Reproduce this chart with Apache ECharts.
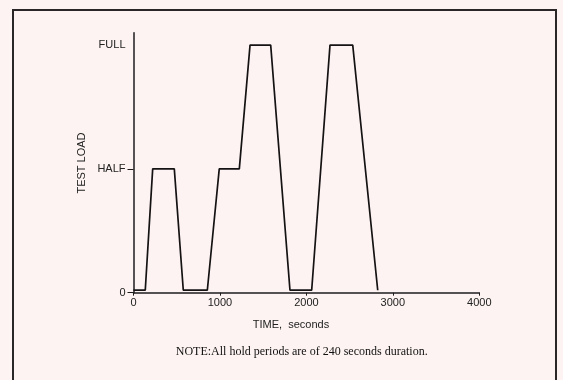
<!DOCTYPE html>
<html>
<head>
<meta charset="utf-8">
<script src="https://cdn.jsdelivr.net/npm/echarts@6/dist/echarts.min.js"></script>
<style>
html,body{margin:0;padding:0;background:#fdf3f2;}
#chart{width:563px;height:380px;}
</style>
</head>
<body>
<div id="chart"></div>
<script>
// Data (time in seconds, load as % of full)
var timeSeconds = [0, 136, 222, 472, 576, 854, 992, 1224, 1348, 1587, 1810, 2061, 2273, 2536, 2825];
var testLoad    = [1, 1, 50, 50, 1, 1, 50, 50, 100, 100, 1, 1, 100, 100, 1];
var yTickValues = [0, 50, 100];
var yTickLabels = ['0', 'HALF', 'FULL'];
var xTickValues = [0, 1000, 2000, 3000, 4000];

var points = timeSeconds.map(function (t, i) { return [t, testLoad[i]]; });
var labelMap = {};
yTickValues.forEach(function (v, i) { labelMap[v] = yTickLabels[i]; });

var sansFont = '"Liberation Sans", Arial, sans-serif';
var chart = echarts.init(document.getElementById('chart'), null, {renderer: 'canvas'});
chart.setOption({
  backgroundColor: '#fdf3f2',
  animation: false,
  grid: {left: 133.5, right: 83.7, top: 32.7, bottom: 87.3, containLabel: false},
  xAxis: {
    type: 'value', min: 0, max: 4000, interval: 1000,
    axisLine: {show: true, onZero: false, lineStyle: {color: '#1e1b1c', width: 1.5}},
    axisTick: {show: true, length: 3, lineStyle: {color: '#1e1b1c', width: 1}},
    axisLabel: {show: true, margin: 5, color: '#222', fontFamily: sansFont, fontSize: 11,
      customValues: xTickValues,
      formatter: function (v) { return String(v); }},
    splitLine: {show: false}
  },
  yAxis: {
    type: 'value', min: 0, max: 105,
    axisLine: {show: true, onZero: false, lineStyle: {color: '#1e1b1c', width: 1.5}},
    axisTick: {show: true, length: 6, lineStyle: {color: '#1e1b1c', width: 1}, customValues: [0, 50]},
    axisLabel: {show: true, margin: 8, color: '#222', fontFamily: sansFont, fontSize: 11,
      customValues: yTickValues,
      formatter: function (v) { return labelMap[v] !== undefined ? labelMap[v] : ''; }},
    splitLine: {show: false}
  },
  series: [{
    type: 'line', data: points, symbol: 'none',
    lineStyle: {color: '#151213', width: 1.7}
  }],
  graphic: [
    {type: 'rect', shape: {x: 13, y: 10, width: 543, height: 400},
     style: {fill: null, stroke: '#2a2527', lineWidth: 2}, silent: true, z: 100},
    {type: 'text', x: 291, y: 325,
     style: {text: 'TIME,  seconds', fill: '#222', font: '11px ' + sansFont, textAlign: 'center', textVerticalAlign: 'middle'}},
    {type: 'text', x: 81.7, y: 163, rotation: Math.PI / 2,
     style: {text: 'TEST LOAD', fill: '#222', font: '11px ' + sansFont, textAlign: 'center', textVerticalAlign: 'middle'}},
    {type: 'text', x: 301.7, y: 351.7,
     style: {text: 'NOTE:All hold periods are of 240 seconds duration.', fill: '#111',
       font: '12px "Liberation Serif", "Times New Roman", serif', textAlign: 'center', textVerticalAlign: 'middle'}}
  ]
});
</script>
</body>
</html>
